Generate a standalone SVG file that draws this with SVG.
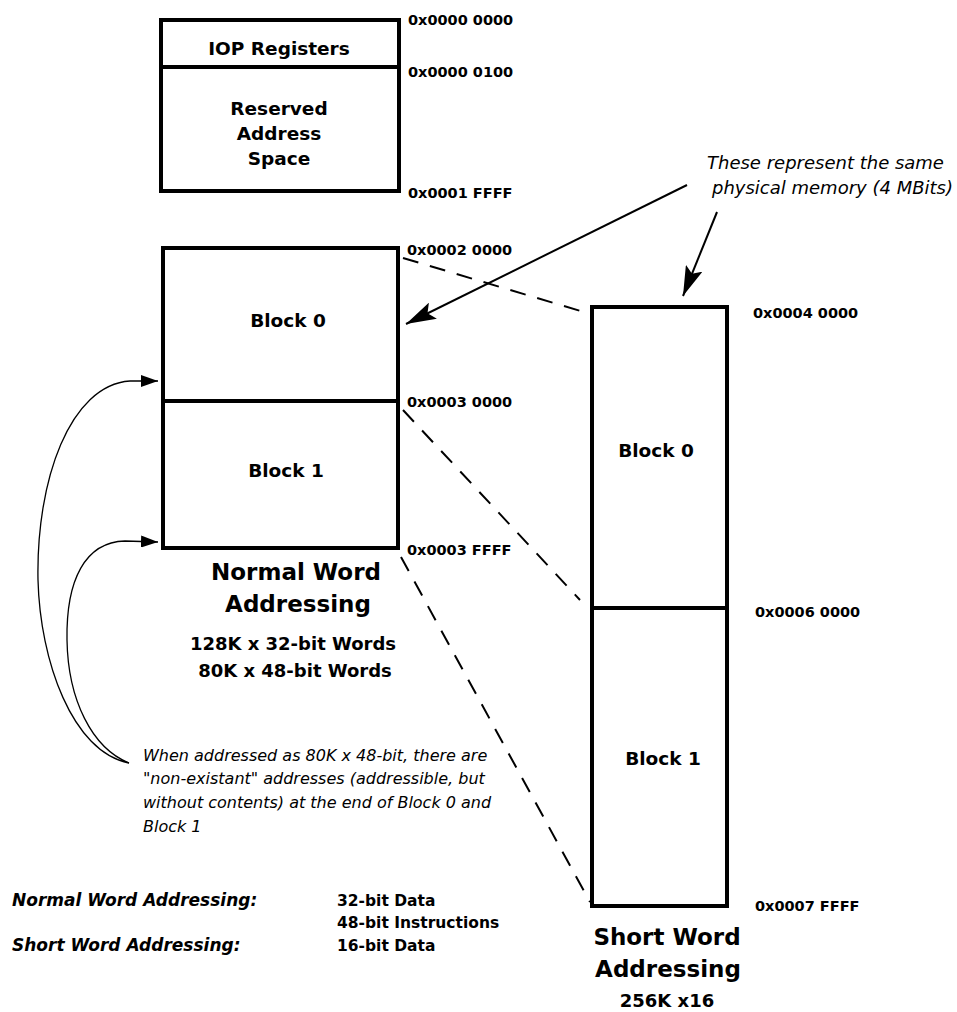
<svg xmlns="http://www.w3.org/2000/svg" width="957" height="1012" viewBox="0 0 957 1012">
<style>
.box{fill:#fff;stroke:#000;stroke-width:4}
.div{stroke:#000;stroke-width:4}
.b{font-family:"DejaVu Sans","Liberation Sans",sans-serif;font-weight:bold;fill:#000}
.lbl{font-size:14.5px}
.blk{font-size:18.5px;text-anchor:middle}
.ttl{font-size:23px;text-anchor:middle}
.sub{font-size:18px;text-anchor:middle}
.it{font-family:"DejaVu Sans","Liberation Sans",sans-serif;font-style:italic;fill:#000}
.dash{fill:none;stroke:#000;stroke-width:2;stroke-dasharray:16 12}
.arr{fill:none;stroke:#000;stroke-width:2}
.crv{fill:none;stroke:#000;stroke-width:1.3}
</style>
<defs>
<marker id="big" markerUnits="userSpaceOnUse" markerWidth="32" markerHeight="18" refX="30" refY="9" orient="auto">
<path d="M0,0 L30,9 L0,18 L6,9 Z" fill="#000"/>
</marker>
<marker id="small" markerUnits="userSpaceOnUse" markerWidth="18" markerHeight="12" refX="17" refY="6" orient="auto">
<path d="M0,0 L17,6 L0,12 Z" fill="#000"/>
</marker>
</defs>

<g id="iop-region">
<rect class="box" x="161" y="20" width="238" height="171"/>
<line class="div" x1="161" y1="67" x2="399" y2="67"/>
<text class="b blk" x="279" y="55">IOP Registers</text>
<text class="b blk" x="279" y="115">Reserved</text>
<text class="b blk" x="279" y="140">Address</text>
<text class="b blk" x="279" y="165">Space</text>
<text class="b lbl" x="408" y="25">0x0000 0000</text>
<text class="b lbl" x="408" y="77">0x0000 0100</text>
<text class="b lbl" x="408" y="198">0x0001 FFFF</text>
</g>

<g id="normal-word">
<rect class="box" x="163" y="248" width="235" height="300"/>
<line class="div" x1="163" y1="401" x2="398" y2="401"/>
<text class="b blk" x="288" y="327">Block 0</text>
<text class="b blk" x="286" y="477">Block 1</text>
<text class="b lbl" x="407" y="255">0x0002 0000</text>
<text class="b lbl" x="407" y="407">0x0003 0000</text>
<text class="b lbl" x="407" y="555">0x0003 FFFF</text>
<text class="b ttl" x="296" y="580">Normal Word</text>
<text class="b ttl" x="298" y="612">Addressing</text>
<text class="b sub" x="293" y="650">128K x 32-bit Words</text>
<text class="b sub" x="295" y="677">80K x 48-bit Words</text>
</g>

<g id="short-word">
<rect class="box" x="592" y="307" width="135" height="599"/>
<line class="div" x1="592" y1="608" x2="727" y2="608"/>
<text class="b blk" x="656" y="457">Block 0</text>
<text class="b blk" x="663" y="765">Block 1</text>
<text class="b lbl" x="753" y="318">0x0004 0000</text>
<text class="b lbl" x="755" y="617">0x0006 0000</text>
<text class="b lbl" x="755" y="911">0x0007 FFFF</text>
<text class="b ttl" x="667" y="945">Short Word</text>
<text class="b ttl" x="668" y="977">Addressing</text>
<text class="b sub" x="667" y="1007">256K x16</text>
</g>

<g id="note-same">
<text class="it" font-size="18" x="707" y="169">These represent the same</text>
<text class="it" font-size="18" x="712" y="194">physical memory (4 MBits)</text>
</g>

<g id="note-nonexist">
<text class="it" font-size="16" x="143" y="761">When addressed as 80K x 48-bit, there are</text>
<text class="it" font-size="16" x="143" y="784">"non-existant" addresses (addressible, but</text>
<text class="it" font-size="16" x="143" y="808">without contents) at the end of Block 0 and</text>
<text class="it" font-size="16" x="143" y="832">Block 1</text>
</g>

<g id="legend">
<text class="it" font-weight="bold" font-size="17" x="12" y="906">Normal Word Addressing:</text>
<text class="it" font-weight="bold" font-size="17" x="12" y="951">Short Word Addressing:</text>
<text class="b" font-size="15.5" x="337" y="906">32-bit Data</text>
<text class="b" font-size="15.5" x="337" y="928">48-bit Instructions</text>
<text class="b" font-size="15.5" x="337" y="951">16-bit Data</text>
</g>

<g id="connectors">
<path class="dash" d="M403,258 L584,312"/>
<path class="dash" d="M403,410 L580,600"/>
<path class="dash" d="M401,557 L590,902"/>
<path class="arr" d="M687,185 L406,324" marker-end="url(#big)"/>
<path class="arr" d="M717,212 L683,296" marker-end="url(#big)"/>
<path class="crv" d="M129,763 C72,752 40,660 38,580 C36,480 70,385 130,381 L158,381" marker-end="url(#small)"/>
<path class="crv" d="M129,763 C92,748 68,700 67,640 C66,580 85,542 125,541 L158,542" marker-end="url(#small)"/>
</g>
</svg>
